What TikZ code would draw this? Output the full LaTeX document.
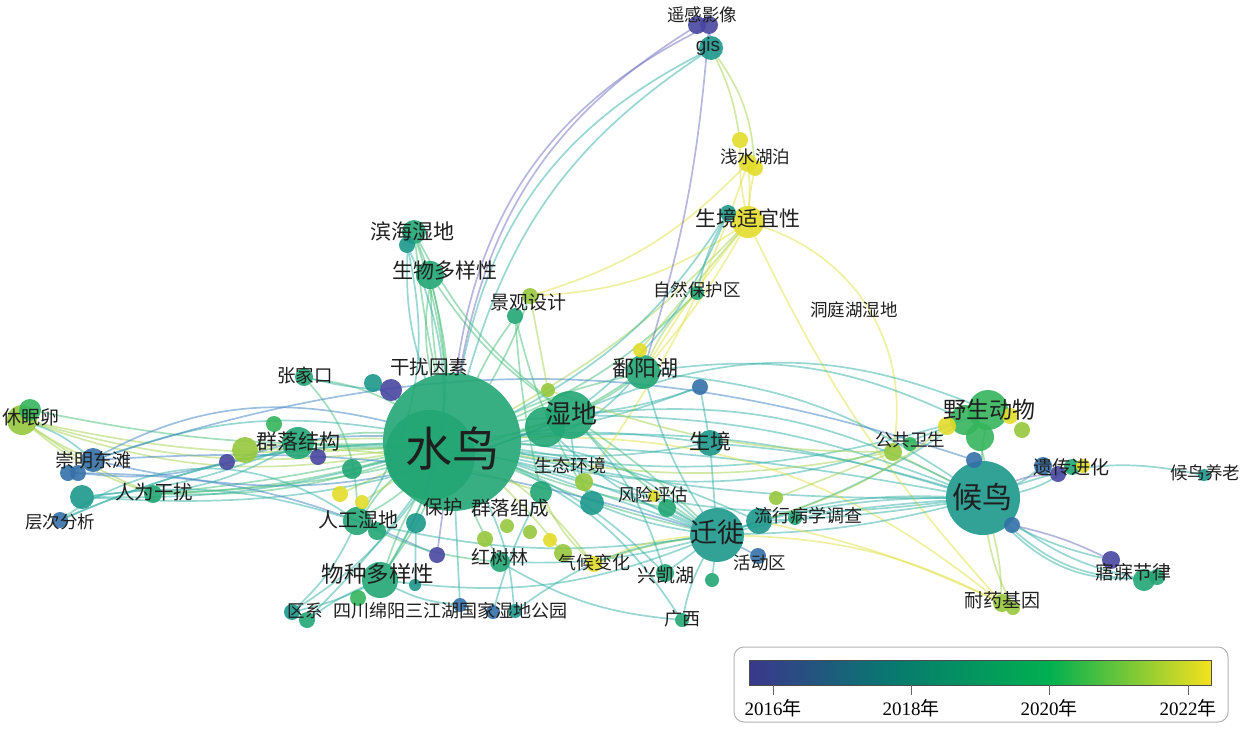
\documentclass[tikz,border=0pt]{standalone}
\usepackage{fontspec}
\setmainfont{Liberation Serif}
\newfontfamily\cjk{Noto Sans CJK SC}
\newfontfamily\lsans{Liberation Sans}
\pgfdeclarelayer{bg}
\pgfsetlayers{bg,main}
\definecolor{c16}{RGB}{72,70,160}
\definecolor{c17}{RGB}{52,112,168}
\definecolor{c18}{RGB}{28,152,140}
\definecolor{c19}{RGB}{34,166,116}
\definecolor{c20}{RGB}{52,180,92}
\definecolor{c21}{RGB}{150,200,60}
\definecolor{c22}{RGB}{226,220,42}
\definecolor{eTc}{RGB}{50,175,165}
\definecolor{eGc}{RGB}{70,190,120}
\definecolor{eYc}{RGB}{225,225,70}
\definecolor{eYGc}{RGB}{165,210,80}
\definecolor{eBc}{RGB}{60,130,195}
\definecolor{ePc}{RGB}{110,110,190}
\definecolor{lg16}{RGB}{58,56,140}
\definecolor{lg18}{RGB}{8,120,112}
\definecolor{lg20}{RGB}{0,176,80}
\definecolor{lg22}{RGB}{245,225,30}
\tikzset{
  bub/.style={circle,inner sep=0pt,fill=#1,fill opacity=0.9,draw=none},
  edge/.style={line width=1.7pt,draw opacity=0.5,line cap=round},
  eT/.style={edge,draw=eTc},
  eG/.style={edge,draw=eGc},
  eY/.style={edge,draw=eYc},
  eYG/.style={edge,draw=eYGc},
  eB/.style={edge,draw=eBc},
  eP/.style={edge,draw=ePc},
  lab/.style={inner sep=0pt,text=black!88,font=\cjk\fontsize{#1}{#1}\selectfont},
  lab/.default=18
}
\newcommand\B[5]{\node[bub=#5,minimum size=#4pt] (#1) at (#2,#3) {};}
\newcommand\E[4][eT]{\draw[#1] (#2) to[bend left=#4] (#3);}
\begin{document}
\begin{tikzpicture}[x=1pt,y=-1pt]
\useasboundingbox (0,0) rectangle (1247,728);
% ---------- bubbles ----------
\B{sn}{452}{442}{138}{c19}
\B{sn2}{430}{455}{90}{c19}
\B{sd2}{545}{427}{40}{c19}
\B{sd}{570}{415}{48}{c19}
\B{pyh}{643}{372}{34}{c19}
\B{m1}{640}{350}{14}{c22}
\B{sj}{710}{443}{26}{c18}
\B{qx}{717}{535}{54}{c18}
\B{hn}{983}{498}{74}{c18}
\B{ys1}{965}{420}{30}{c20}
\B{ys2}{980}{437}{28}{c20}
\B{ysdw}{988}{410}{40}{c20}
\B{ys3}{947}{426}{18}{c22}
\B{ys4}{1022}{430}{16}{c21}
\B{ys5}{1010}{416}{16}{c22}
\B{m2}{974}{460}{16}{c17}
\B{m3}{1012}{525}{16}{c17}
\B{yc1}{1043}{466}{18}{c17}
\B{yc3}{1072}{467}{16}{c19}
\B{yc4}{1083}{466}{14}{c22}
\B{ycjh}{1058}{474}{16}{c16}
\B{hnyl}{1204}{475}{12}{c18}
\B{wm1}{1111}{560}{18}{c16}
\B{wm}{1144}{580}{22}{c19}
\B{wm2}{1157}{577}{16}{c19}
\B{nyjy}{1002}{603}{18}{c21}
\B{ny2}{1013}{608}{14}{c21}
\B{ggws}{893}{452}{18}{c21}
\B{gg2}{910}{444}{14}{c20}
\B{lxb}{759}{521}{26}{c18}
\B{lx2}{776}{498}{14}{c21}
\B{lx3}{795}{518}{14}{c19}
\B{hdq}{758}{556}{16}{c17}
\B{m4}{712}{580}{14}{c19}
\B{nkh}{665}{573}{18}{c19}
\B{gx}{682}{620}{14}{c19}
\B{fxpg}{667}{508}{18}{c19}
\B{fx2}{654}{496}{12}{c22}
\B{st1}{584}{482}{18}{c21}
\B{stjh}{592}{503}{24}{c18}
\B{qlzc}{541}{492}{22}{c19}
\B{m5}{548}{390}{14}{c21}
\B{bh}{416}{523}{20}{c18}
\B{hsl}{500}{562}{20}{c19}
\B{hs2}{485}{539}{16}{c21}
\B{m6}{507}{526}{14}{c21}
\B{qh1}{530}{532}{14}{c21}
\B{qh2}{550}{540}{14}{c22}
\B{qh3}{563}{553}{18}{c21}
\B{qhbh}{594}{564}{16}{c22}
\B{wzdyx}{380}{580}{36}{c19}
\B{rgsd}{357}{521}{28}{c19}
\B{rg2}{377}{531}{18}{c19}
\B{m7}{340}{494}{16}{c22}
\B{m8}{362}{502}{14}{c22}
\B{m9}{352}{469}{20}{c19}
\B{m10}{437}{555}{16}{c16}
\B{sc1}{460}{605}{14}{c17}
\B{sc2}{493}{612}{14}{c17}
\B{sc3}{515}{611}{14}{c18}
\B{qxi}{292}{612}{16}{c18}
\B{qxi2}{307}{620}{16}{c19}
\B{qxi3}{358}{598}{16}{c20}
\B{qljg}{298}{443}{32}{c19}
\B{ql2}{245}{450}{26}{c21}
\B{ql3}{227}{462}{16}{c16}
\B{ql4}{318}{457}{16}{c16}
\B{ql5}{274}{424}{16}{c20}
\B{zjk}{304}{377}{18}{c19}
\B{grys}{373}{383}{18}{c18}
\B{gr2}{391}{390}{22}{c16}
\B{xmr}{22}{420}{30}{c21}
\B{xm2}{30}{410}{22}{c20}
\B{cmdt}{93}{460}{24}{c17}
\B{cm2}{68}{473}{16}{c17}
\B{cm3}{78}{473}{16}{c17}
\B{cm4}{82}{497}{24}{c18}
\B{rwgr}{153}{494}{18}{c19}
\B{ccfx}{60}{520}{16}{c17}
\B{bhsd}{414}{232}{24}{c19}
\B{bh2}{407}{245}{16}{c18}
\B{swdyx}{430}{275}{28}{c19}
\B{jgsj}{530}{296}{16}{c21}
\B{jg2}{515}{316}{16}{c19}
\B{zrbhq}{697}{293}{14}{c19}
\B{sjsyx}{748}{222}{32}{c22}
\B{sj2}{728}{213}{16}{c18}
\B{qshp}{740}{140}{16}{c22}
\B{qs2}{748}{163}{18}{c22}
\B{qs3}{755}{168}{16}{c22}
\B{gis}{711}{48}{24}{c18}
\B{yg1}{697}{25}{18}{c16}
\B{ygyx}{709}{25}{18}{c16}
\B{m11}{700}{387}{16}{c17}
\B{m12}{415}{585}{12}{c18}
% ---------- edges ----------
\begin{pgfonlayer}{bg}
% 水鸟 hub
\E[eG]{sn}{sd}{5}\E[eG]{sn}{sd}{-8}\E[eG]{sn}{sd2}{0}
\E[eG]{sn}{pyh}{-10}\E[eG]{sn}{pyh}{5}\E[eT]{sn}{pyh}{-20}
\E[eT]{sn}{sj}{-8}\E[eT]{sn}{sj}{6}
\E[eT]{sn}{qx}{10}\E[eG]{sn}{qx}{-5}\E[eT]{sn}{qx}{0}\E[eT]{sn}{qx}{18}
\E[eT]{sn}{hn}{-12}\E[eT]{sn}{hn}{-6}\E[eT]{sn}{hn}{4}\E[eT]{sn}{hn}{10}
\E[eT]{sn}{ysdw}{-18}\E[eT]{sn}{ys1}{-12}
\E[eG]{sn}{qljg}{5}\E[eG]{sn}{qljg}{-8}\E[eYG]{sn}{ql2}{-5}
\E[eG]{sn}{rwgr}{3}\E[eG]{sn}{rwgr}{6}\E[eG]{sn}{rwgr}{9}
\E[eYG]{sn}{xmr}{8}\E[eYG]{sn}{xmr}{11}\E[eYG]{sn}{xmr}{14}\E[eG]{sn}{xm2}{6}
\E[eT]{sn}{cmdt}{-14}\E[eT]{sn}{cm4}{8}\E[eB]{sn}{cm2}{-22}
\E[eG]{sn}{zjk}{-10}\E[eT]{sn}{grys}{0}\E[eP]{sn}{gr2}{0}
\E[eG]{sn}{bhsd}{-5}\E[eG]{sn}{bhsd}{3}\E[eT]{sn}{bh2}{10}
\E[eG]{sn}{swdyx}{-4}\E[eG]{sn}{swdyx}{4}\E[eG]{sn}{swdyx}{10}
\E[eG]{sn}{jgsj}{-5}\E[eG]{sn}{jg2}{5}
\E[eT]{sn}{gis}{20}\E[eT]{sn}{gis}{26}
\E[eP]{sn}{yg1}{24}\E[eP]{sn}{ygyx}{28}
\E[eYG]{sn}{sjsyx}{-8}\E[eT]{sn}{sj2}{-14}
\E[eG]{sn}{zrbhq}{-10}
\E[eG]{sn}{wzdyx}{5}\E[eG]{sn}{wzdyx}{-5}
\E[eG]{sn}{rgsd}{5}\E[eG]{sn}{rgsd}{-8}
\E[eT]{sn}{qxi}{10}\E[eT]{sn}{qxi2}{4}
\E[eG]{sn}{hsl}{-5}\E[eYG]{sn}{qhbh}{8}\E[eYG]{sn}{qh3}{4}
\E[eT]{sn}{nkh}{10}\E[eT]{sn}{gx}{15}
\E[eG]{sn}{fxpg}{-5}\E[eT]{sn}{lxb}{8}
\E[eYG]{sn}{ggws}{-10}\E[eT]{sn}{sc1}{0}\E[eT]{sn}{sc3}{10}
\E[eY]{sn}{nyjy}{20}\E[eT]{sn}{ccfx}{-10}
\E[eT]{sn}{m11}{-6}\E[eP]{sn}{m10}{0}\E[eG]{sn}{m9}{0}
\E[eYG]{sn}{m7}{0}\E[eYG]{sn}{m8}{0}
% left group
\E[eYG]{xmr}{cmdt}{-5}\E[eYG]{xmr}{rwgr}{-6}\E[eYG]{xmr}{rwgr}{-10}
\E[eT]{xmr}{cmdt}{10}
\E[eB]{cmdt}{sd}{-18}\E[eB]{cmdt}{qx}{10}\E[eB]{cm3}{ql3}{-10}
\E[eT]{cm4}{sd2}{-12}\E[eT]{cm4}{qljg}{-8}\E[eB]{cm2}{m10}{12}
\E[eT]{ccfx}{rgsd}{34}\E[eT]{ccfx}{qx}{24}\E[eT]{cm4}{rgsd}{12}
\E[eG]{rwgr}{sd}{-8}\E[eT]{rwgr}{qljg}{-10}
\E[eG]{qljg}{sd2}{-8}\E[eB]{ql3}{sn}{10}\E[eYG]{ql2}{qlzc}{10}
\E[eT]{zjk}{gr2}{-5}\E[eG]{zjk}{rgsd}{20}
% top right
\E[eY]{sjsyx}{qshp}{6}\E[eY]{sjsyx}{qs2}{-4}\E[eY]{sjsyx}{qs3}{4}
\E[eY]{sjsyx}{pyh}{5}\E[eY]{sjsyx}{pyh}{-3}\E[eYG]{sjsyx}{m1}{0}
\E[eY]{sjsyx}{ggws}{40}\E[eY]{sjsyx}{nyjy}{-8}
\E[eY]{sjsyx}{jgsj}{15}\E[eY]{qs2}{jgsj}{14}\E[eY]{qs2}{st1}{8}
\E[eYG]{qshp}{gis}{-8}\E[eYG]{qs3}{gis}{-15}
\E[eP]{gis}{ygyx}{0}\E[eP]{ygyx}{pyh}{6}
\E[eT]{sj2}{sd}{14}\E[eT]{sj2}{zrbhq}{-8}
\E[eYG]{pyh}{zrbhq}{10}\E[eG]{pyh}{sd}{5}\E[eT]{pyh}{qx}{-8}
% right
\E[eG]{hn}{ysdw}{5}\E[eG]{hn}{ys2}{-5}
\E[eT]{hn}{yc1}{-6}\E[eT]{hn}{yc3}{-10}\E[eP]{hn}{ycjh}{10}
\E[eT]{hn}{wm}{-20}\E[eT]{hn}{wm}{-12}\E[eT]{hn}{wm2}{-26}\E[eP]{m3}{wm1}{6}\E[eT]{m3}{wm1}{-6}
\E[eYG]{hn}{nyjy}{6}\E[eYG]{hn}{ny2}{-8}
\E[eT]{hn}{hnyl}{15}
\E[eT]{hn}{qx}{6}\E[eT]{hn}{qx}{-4}\E[eT]{hn}{qx}{-10}
\E[eT]{hn}{lxb}{3}\E[eT]{hn}{lxb}{-6}\E[eYG]{hn}{ggws}{0}
\E[eT]{hn}{sd}{-10}\E[eT]{hn}{sd}{-16}\E[eT]{hn}{sj}{-6}\E[eT]{hn}{pyh}{-14}
\E[eB]{m2}{cmdt}{-18}\E[eT]{ysdw}{sd}{-22}\E[eT]{ys1}{qx}{8}\E[eT]{ys1}{pyh}{-16}
\E[eY]{nyjy}{qx}{-12}\E[eY]{nyjy}{lxb}{-6}
\E[eYG]{ggws}{lx2}{0}\E[eYG]{ys3}{lxb}{10}
% middle
\E[eG]{qx}{sd}{6}\E[eG]{qx}{sd}{-4}\E[eT]{qx}{sd2}{10}
\E[eB]{qx}{hdq}{0}\E[eT]{qx}{nkh}{0}\E[eT]{qx}{gx}{-8}
\E[eT]{qx}{lxb}{0}\E[eT]{qx}{fxpg}{0}\E[eT]{qx}{wzdyx}{14}\E[eT]{qx}{rgsd}{10}
\E[eT]{qx}{m4}{0}\E[eT]{qx}{sj}{0}\E[eT]{qx}{hsl}{8}\E[eYG]{qx}{qhbh}{-6}
\E[eT]{sj}{m11}{0}\E[eT]{sd}{m11}{-6}
\E[eG]{sd}{swdyx}{10}\E[eG]{sd}{bhsd}{12}\E[eG]{bhsd}{swdyx}{0}
\E[eT]{bh2}{wzdyx}{28}\E[eT]{bh2}{rgsd}{22}\E[eG]{swdyx}{wzdyx}{22}
\E[eG]{jg2}{stjh}{-8}\E[eG]{jg2}{qlzc}{-4}\E[eYG]{jgsj}{m5}{0}
\E[eT]{wzdyx}{qxi}{6}\E[eT]{wzdyx}{qxi2}{-6}\E[eT]{wzdyx}{sc1}{-10}\E[eT]{rgsd}{qxi}{10}
\E[eG]{rgsd}{hsl}{-10}\E[eYG]{qhbh}{qlzc}{10}\E[eY]{qhbh}{qx}{10}
\E[eT]{stjh}{qx}{-6}\E[eT]{stjh}{sd}{10}\E[eT]{nkh}{sd}{-12}
\E[eT]{hsl}{gx}{-12}\E[eT]{sc3}{qx}{14}\E[eT]{sc2}{qlzc}{6}
\E[eYG]{m5}{ggws}{-10}\E[eT]{m12}{bh}{0}
\end{pgfonlayer}
% ---------- labels ----------
\node[lab=47] (l-sn) at (452,449) {水鸟};
\node[lab=26] (l-sd) at (571,413) {湿地};
\node[lab=22] (l-pyh) at (645,368) {鄱阳湖};
\node[lab=21] (l-sj) at (710,441) {生境};
\node[lab=27] (l-qx) at (717,532) {迁徙};
\node[lab=30] (l-hn) at (982,497) {候鸟};
\node[lab=23] (l-ysdw) at (989,410) {野生动物};
\node[lab=19] (l-ycjh) at (1071,467) {遗传进化};
\node[lab=17.5] (l-hnyl) at (1205,473) {候鸟养老};
\node[lab=19] (l-wm) at (1133,572) {寤寐节律};
\node[lab=19] (l-nyjy) at (1002,600) {耐药基因};
\node[lab=17.5] (l-ggws) at (910,440) {公共卫生};
\node[lab=18] (l-lxb) at (808,516) {流行病学调查};
\node[lab=17.5] (l-hdq) at (760,563) {活动区};
\node[lab=19] (l-nkh) at (666,575) {兴凯湖};
\node[lab=18] (l-gx) at (682,619) {广西};
\node[lab=17.5] (l-fxpg) at (653,495) {风险评估};
\node[lab=18] (l-stjh) at (570,466) {生态环境};
\node[lab=19.5] (l-qlzc) at (510,508) {群落组成};
\node[lab=19.5] (l-bh) at (443,507) {保护};
\node[lab=19] (l-hsl) at (500,557) {红树林};
\node[lab=18] (l-qhbh) at (594,563) {气候变化};
\node[lab=22.5] (l-wzdyx) at (378,574) {物种多样性};
\node[lab=20] (l-rgsd) at (358,520) {人工湿地};
\node[lab=18] (l-sc) at (450,611) {四川绵阳三江湖国家湿地公园};
\node[lab=17.5] (l-qxi) at (305,611) {区系};
\node[lab=21] (l-qljg) at (298,442) {群落结构};
\node[lab=18.5] (l-zjk) at (305,375) {张家口};
\node[lab=19.5] (l-grys) at (429,367) {干扰因素};
\node[lab=19] (l-xmr) at (31,417) {休眠卵};
\node[lab=19] (l-cmdt) at (93,460) {崇明东滩};
\node[lab=19.5] (l-rwgr) at (154,492) {人为干扰};
\node[lab=17.5] (l-ccfx) at (60,522) {层次分析};
\node[lab=21] (l-bhsd) at (412,231) {滨海湿地};
\node[lab=21] (l-swdyx) at (445,271) {生物多样性};
\node[lab=19] (l-jgsj) at (528,302) {景观设计};
\node[lab=17.5] (l-zrbhq) at (697,290) {自然保护区};
\node[lab=17.5] (l-dth) at (854,310) {洞庭湖湿地};
\node[lab=21] (l-sjsyx) at (748,218) {生境适宜性};
\node[lab=17.5] (l-qshp) at (755,157) {浅水湖泊};
\node[inner sep=0pt,text=black!88,font=\lsans\fontsize{19}{19}\selectfont] (l-gis) at (708,47) {gis};
\node[lab=17.5] (l-ygyx) at (702,15) {遥感影像};
% ---------- legend ----------
\node[draw=black!30,line width=1pt,rounded corners=10pt,minimum width=494pt,minimum height=75pt,inner sep=0pt] (leg) at (981,684.5) {};
\shade[left color=lg16,right color=lg16!70!lg18] (749,660) rectangle (795,685);
\shade[left color=lg16!70!lg18,right color=lg18] (795,660) rectangle (888,685);
\shade[left color=lg18,right color=lg20] (888,660) rectangle (1050,685);
\shade[left color=lg20,right color=lg22] (1050,660) rectangle (1211,685);
\node[draw=black!70,line width=0.8pt,minimum width=462pt,minimum height=25pt,inner sep=0pt] (bar) at (980,672.5) {};
\foreach \x/\y in {773/2016,911/2018,1049/2020,1188/2022}{
  \coordinate (t\y) at (\x,685);
  \draw[black!60,line width=1pt] (t\y) -- ++(0,10);
  \node[inner sep=0pt,font=\fontsize{19}{19}\selectfont] (y\y) at (\x,708) {\y{\cjk 年}};
}
\end{tikzpicture}
\end{document}
